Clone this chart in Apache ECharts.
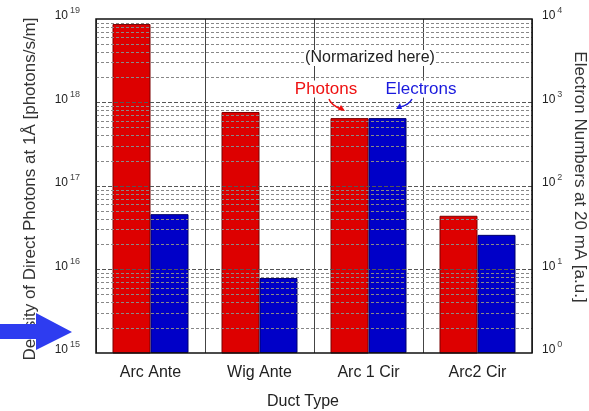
<!DOCTYPE html>
<html>
<head>
<meta charset="utf-8">
<script src="https://cdn.jsdelivr.net/npm/echarts@6/dist/echarts.min.js"></script>
<style>
  html, body { margin: 0; padding: 0; background: #fff; }
  #chart { width: 589px; height: 411px; }
</style>
</head>
<body>
<div id="chart"></div>
<script>
// Duct types along the x axis
const categories = ['Arc Ante', 'Wig Ante', 'Arc 1 Cir', 'Arc2 Cir'];
// Density of direct photons at 1 Å [photons/s/m] (left, log axis)
const photons = [8.7e18, 7.7e17, 6.5e17, 4.4e16];
// Electron numbers at 20 mA [a.u.] (right, log axis)
const electrons = [46, 7.9, 650, 26];
// Decade exponents shown as tick labels
const leftExps = [15, 16, 17, 18, 19];
const rightExps = [0, 1, 2, 3, 4];
// Mantissas of the minor grid lines inside each decade
const minorSteps = [2, 3, 4, 5, 6, 7, 8, 9];

const FONT = '"Liberation Sans", Arial, sans-serif';
const RED = '#dd0000';
const BLUE = '#0000c8';

function expLabel(exps) {
  return function (v) {
    const e = Math.round(Math.log10(v));
    return exps.indexOf(e) >= 0 ? '{b|10}{sup|' + e + '}' : '';
  };
}

const labelRich = {
  b: { fontSize: 12, fontFamily: FONT, color: '#222', padding: [0, 0, 6, 0] },
  sup: { fontSize: 9, fontFamily: FONT, color: '#444', padding: [0, 0, 16, 2] }
};

// minor grid values on the electron axis (decades 10^0 .. 10^3)
const minorLines = [];
for (let d = rightExps[0]; d < rightExps[rightExps.length - 1]; d++) {
  minorSteps.forEach(k => minorLines.push({ yAxis: k * Math.pow(10, d) }));
}
const majorLines = rightExps.slice(1, -1).map(e => ({ yAxis: Math.pow(10, e) }));

const chart = echarts.init(document.getElementById('chart'), null, { renderer: 'canvas' });

chart.setOption({
  animation: false,
  backgroundColor: '#fff',
  grid: { left: 96, right: 57, top: 19, bottom: 58, show: false },
  xAxis: {
    type: 'category',
    data: categories,
    axisTick: { show: false },
    axisLine: { show: false },
    axisLabel: { fontFamily: FONT, fontSize: 16, color: '#222', margin: 12 },
    splitLine: { show: true, lineStyle: { color: '#444', width: 1 } }
  },
  yAxis: [
    {
      type: 'log', logBase: 10, min: 1e15, max: 1e19,
      axisLine: { show: false },
      axisTick: { show: false },
      splitLine: { show: false },
      axisLabel: { formatter: expLabel(leftExps), margin: 16, rich: labelRich }
    },
    {
      type: 'log', logBase: 10, min: 1, max: 1e4,
      axisLine: { show: false },
      axisTick: { show: false },
      splitLine: { show: false },
      axisLabel: { formatter: expLabel(rightExps), margin: 10, rich: labelRich }
    }
  ],
  series: [
    {
      // dashed log grid drawn beneath the bars
      type: 'line',
      yAxisIndex: 1,
      data: [],
      z: 1,
      silent: true,
      markLine: {
        silent: true,
        symbol: 'none',
        label: { show: false },
        animation: false,
        lineStyle: { color: '#888', type: [3, 2], width: 1 },
        data: minorLines.concat(majorLines.map(m => Object.assign({ lineStyle: { color: '#555', type: [4, 2], width: 1 } }, m)))
      }
    },
    {
      name: 'Photons',
      type: 'bar',
      yAxisIndex: 0,
      data: photons,
      barWidth: 38,
      barGap: '0%',
      z: 3,
      itemStyle: { color: RED, borderColor: '#7a0000', borderWidth: 1 }
    },
    {
      name: 'Electrons',
      type: 'bar',
      yAxisIndex: 1,
      data: electrons,
      barWidth: 38,
      barGap: '0%',
      z: 3,
      itemStyle: { color: BLUE, borderColor: '#00006a', borderWidth: 1 }
    }
  ],
  graphic: [
    // plot frame
    { type: 'rect', shape: { x: 96, y: 19, width: 436, height: 334 }, style: { fill: 'none', stroke: '#111', lineWidth: 1.5 }, z: 10, silent: true },
    // axis titles
    { type: 'text', x: 30, y: 189, rotation: Math.PI / 2, style: { text: 'Density of Direct Photons at 1Å [photons/s/m]', font: '17px ' + FONT, fill: '#333', align: 'center', verticalAlign: 'middle' }, z: 10 },
    { type: 'text', x: 580, y: 177, rotation: -Math.PI / 2, style: { text: 'Electron Numbers at 20 mA [a.u.]', font: '17px ' + FONT, fill: '#333', align: 'center', verticalAlign: 'middle' }, z: 10 },
    { type: 'text', x: 303, y: 402, style: { text: 'Duct Type', font: '16px ' + FONT, fill: '#222', align: 'center', verticalAlign: 'middle' }, z: 10 },
    // annotations
    { type: 'text', x: 370, y: 58, style: { text: '(Normarized here)', font: '16px ' + FONT, fill: '#222', align: 'center', verticalAlign: 'middle', backgroundColor: '#fff' }, z: 10 },
    { type: 'text', x: 326, y: 89, style: { text: 'Photons', font: '17px ' + FONT, fill: '#ee1111', align: 'center', verticalAlign: 'middle', backgroundColor: '#fff' }, z: 10 },
    { type: 'text', x: 421, y: 89, style: { text: 'Electrons', font: '17px ' + FONT, fill: '#1a1add', align: 'center', verticalAlign: 'middle', backgroundColor: '#fff' }, z: 10 },
    { type: 'bezierCurve', shape: { x1: 329, y1: 99, cpx1: 331, cpy1: 105, x2: 341, y2: 109 }, style: { stroke: '#ee1111', lineWidth: 1.5, fill: 'none' }, z: 10 },
    { type: 'polygon', shape: { points: [[345, 111], [338, 110], [341, 105]] }, style: { fill: '#ee1111' }, z: 10 },
    { type: 'bezierCurve', shape: { x1: 412, y1: 99, cpx1: 409, cpy1: 105, x2: 400, y2: 107 }, style: { stroke: '#1a1add', lineWidth: 1.5, fill: 'none' }, z: 10 },
    { type: 'polygon', shape: { points: [[396, 109], [400, 103], [402, 109]] }, style: { fill: '#1a1add' }, z: 10 },
    // pointer arrow at the left edge
    { type: 'polygon', shape: { points: [[0, 324], [36, 324], [36, 313], [72, 332], [36, 350], [36, 339], [0, 339]] }, style: { fill: '#2e3cf0' }, z: 10 }
  ]
});
</script>
</body>
</html>
